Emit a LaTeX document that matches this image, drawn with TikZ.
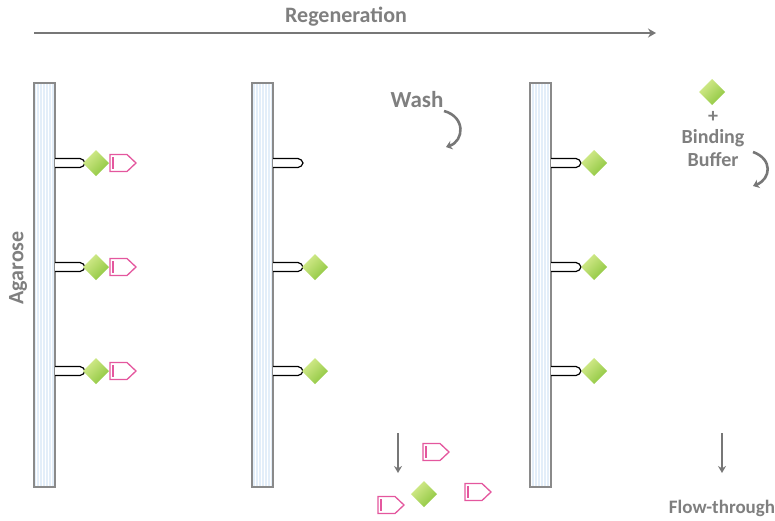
\documentclass[tikz,border=0pt]{standalone}
\usepackage{fontspec}
\setmainfont{Carlito}
\usetikzlibrary{arrows.meta,patterns}
\definecolor{txtgrey}{HTML}{7F7F7F}
\definecolor{arrgrey}{HTML}{777777}
\definecolor{barfill}{HTML}{E3EEF9}
\definecolor{barline}{HTML}{8A8A8A}
\definecolor{tagpink}{HTML}{E4579E}
\definecolor{leafA}{HTML}{D6EC8E}
\definecolor{leafB}{HTML}{8DC63F}
\tikzset{
  lbl/.style={font=\bfseries, text=txtgrey, inner sep=0pt},
  barbox/.style={preaction={fill=barfill}, pattern=vertical lines,
    pattern color=white, draw=barline, line width=2pt,
    minimum width=21pt, minimum height=404pt, inner sep=0pt},
  flowarrow/.style={draw=arrgrey, line width=2pt, -{Stealth[length=7pt,width=8pt]}},
  turnarrow/.style={draw=arrgrey, line width=2.6pt, -{Stealth[length=6pt,width=9pt]}},
  pics/stalk/.style={code={
    \draw[line width=1.2pt, fill=white] (0,-4.5) -- (25,-4.5)
      .. controls (28,-4.5) and (29,-2) .. (30,0)
      .. controls (29,2) and (28,4.5) .. (25,4.5) -- (0,4.5);}},
  pics/ligand/.style={code={
    \shade[left color=leafA, right color=leafB, shading angle=45]
      (-13,0) -- (0,-13) -- (13,0) -- (0,13) -- cycle;}},
  pics/tag/.style={code={
    \draw[tagpink, line width=1.3pt, fill=white, line join=miter]
      (-13,-8.5) -- (4,-8.5) -- (13,0) -- (4,8.5) -- (-13,8.5) -- cycle;
    \draw[tagpink, line width=1.1pt] (-10,-6) -- (-10,6);}}
}
\begin{document}
\begin{tikzpicture}[x=1pt,y=-1pt]
\useasboundingbox (0,0) rectangle (775,520);

% regeneration arrow across the top
\node[lbl, font=\fontsize{22}{26}\selectfont\bfseries] (regen) at (346,17) {Regeneration};
\coordinate (regL) at (34,33);
\coordinate (regR) at (656,33);
\draw[draw=arrgrey, line width=2.4pt, -{Stealth[length=8pt,width=9pt]}] (regL) -- (regR);

% agarose supports
\node[barbox] (bar1) at (44.5,285) {};
\node[barbox] (bar2) at (262.5,285) {};
\node[barbox] (bar3) at (540.5,285) {};
\node[lbl, rotate=90, font=\fontsize{22}{26}\selectfont\bfseries] (agar) at (18,268) {Agarose};

% column 1: ligand with bound target on every stalk
\foreach \yy in {163,267,371} {
  \pic at (55,\yy) {stalk};
  \pic at (96,\yy) {ligand};
  \pic at (123,\yy) {tag};
}

% column 2: bare stalk on top, ligands below
\pic at (273,163) {stalk};
\foreach \yy in {267,371} {
  \pic at (273,\yy) {stalk};
  \pic at (315,\yy) {ligand};
}

% column 3: ligands on every stalk
\foreach \yy in {163,267,371} {
  \pic at (551,\yy) {stalk};
  \pic at (594,\yy) {ligand};
}

% wash step
\node[lbl, font=\fontsize{23}{26}\selectfont\bfseries] (wash) at (417,100) {Wash};
\coordinate (w1) at (444,111);
\coordinate (w2) at (446,147);
\draw[turnarrow] (w1) .. controls (466,117) and (464,141) .. (w2);

% released material
\coordinate (d1a) at (398,433);
\coordinate (d1b) at (398,473);
\draw[flowarrow] (d1a) -- (d1b);
\pic at (436,452) {tag};
\pic at (391,505) {tag};
\pic at (478,492) {tag};
\pic at (424,494) {ligand};

% binding buffer with fresh ligand
\pic at (712,92) {ligand};
\node[lbl, font=\fontsize{20}{22}\selectfont\bfseries] (plus) at (713,117) {+};
\node[lbl, font=\fontsize{20}{23}\selectfont\bfseries, align=center] (bb) at (713,148) {Binding\\Buffer};
\coordinate (b1) at (753,152);
\coordinate (b2) at (753,186);
\draw[turnarrow] (b1) .. controls (773,159) and (771,179) .. (b2);

% flow-through
\coordinate (d2a) at (722,433);
\coordinate (d2b) at (722,473);
\draw[flowarrow] (d2a) -- (d2b);
\node[lbl, font=\fontsize{19}{22}\selectfont\bfseries] (flow) at (722,508) {Flow-through};
\end{tikzpicture}
\end{document}
